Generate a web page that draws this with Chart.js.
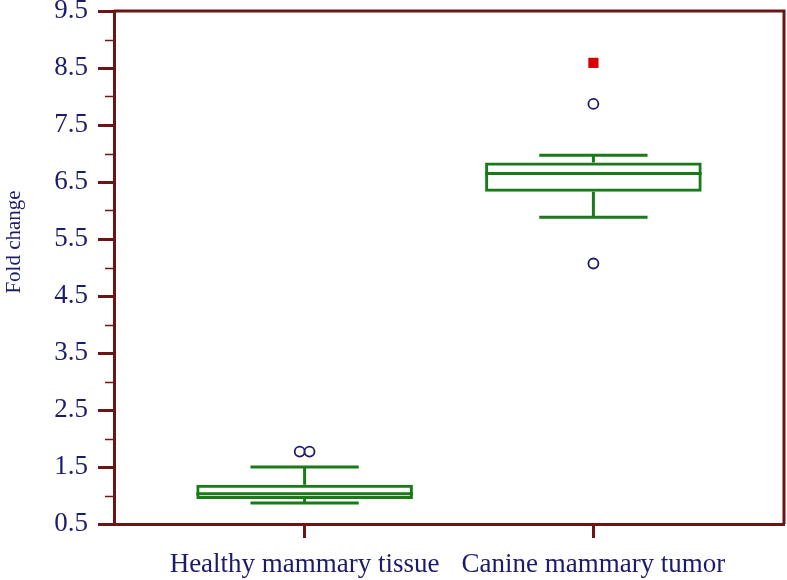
<!DOCTYPE html>
<html>
<head>
<meta charset="utf-8">
<script src="https://cdn.jsdelivr.net/npm/chart.js@4/dist/chart.umd.min.js"></script>
<style>
html,body{margin:0;padding:0;background:#ffffff;}
canvas{display:block;}
</style>
</head>
<body>
<canvas id="c" width="787" height="580"></canvas>
<script>
// ---- data ----
const categories = ['Healthy mammary tissue', 'Canine mammary tumor'];
const groupPos = [1, 2];
const whiskerLow = [0.87, 5.88];
const q1 = [0.94, 6.33];
const median = [1.03, 6.65];
const q3 = [1.19, 6.84];
const whiskerHigh = [1.50, 6.97];
const outlierGroup = [0, 0, 1, 1];
const outlierJitter = [-0.017, 0.017, 0, 0];
const outlierVals = [1.77, 1.77, 7.87, 5.07];
const farOutGroup = [1];
const farOutVals = [8.59];
const yMajorTicks = [0.5, 1.5, 2.5, 3.5, 4.5, 5.5, 6.5, 7.5, 8.5, 9.5];
const yMinorTicks = [1, 2, 3, 4, 5, 6, 7, 8, 9];

// ---- styles ----
const AXIS = '#6b1515';
const NAVY = '#1c1c6c';
const GREEN = '#1a7a1a';
const FONT = '"Liberation Serif", "Times New Roman", serif';

const boxData = groupPos.map((x, i) => ({ x: x, y: [q1[i], q3[i]] }));
const outData = outlierVals.map((v, i) => ({ x: groupPos[outlierGroup[i]] + outlierJitter[i], y: v }));
const farData = farOutVals.map((v, i) => ({ x: groupPos[farOutGroup[i]], y: v }));

const boxPlugin = {
  id: 'boxParts',
  afterDatasetsDraw(chart) {
    const ctx = chart.ctx;
    const xs = chart.scales.x, ys = chart.scales.y;
    const meta = chart.getDatasetMeta(0);
    ctx.save();
    ctx.strokeStyle = GREEN;
    ctx.lineWidth = 3;
    groupPos.forEach((g, i) => {
      const bar = meta.data[i];
      const w = bar.width;
      const cx = xs.getPixelForValue(g);
      const capHalf = w / 4;
      const pm = ys.getPixelForValue(median[i]);
      const p1 = ys.getPixelForValue(q1[i]);
      const p3 = ys.getPixelForValue(q3[i]);
      const pl = ys.getPixelForValue(whiskerLow[i]);
      const ph = ys.getPixelForValue(whiskerHigh[i]);
      ctx.beginPath();
      ctx.moveTo(cx - w / 2, pm); ctx.lineTo(cx + w / 2, pm);
      ctx.moveTo(cx, p3); ctx.lineTo(cx, ph);
      ctx.moveTo(cx, p1); ctx.lineTo(cx, pl);
      ctx.moveTo(cx - capHalf, ph); ctx.lineTo(cx + capHalf, ph);
      ctx.moveTo(cx - capHalf, pl); ctx.lineTo(cx + capHalf, pl);
      ctx.stroke();
    });
    ctx.restore();
  },
  afterDraw(chart) {
    const ctx = chart.ctx;
    const a = chart.chartArea;
    const ys = chart.scales.y;
    ctx.save();
    ctx.strokeStyle = AXIS;
    ctx.lineWidth = 3;
    ctx.beginPath();
    ctx.moveTo(a.left, a.top); ctx.lineTo(a.right, a.top); ctx.lineTo(a.right, a.bottom);
    ctx.stroke();
    ctx.lineWidth = 1.5;
    ctx.beginPath();
    yMinorTicks.forEach(v => {
      const p = Math.round(ys.getPixelForValue(v)) + 0.5;
      ctx.moveTo(a.left - 9, p); ctx.lineTo(a.left, p);
    });
    ctx.stroke();
    ctx.fillStyle = NAVY;
    ctx.font = '21px ' + FONT;
    ctx.textAlign = 'center';
    ctx.textBaseline = 'middle';
    ctx.translate(14, 242);
    ctx.rotate(-Math.PI / 2);
    ctx.fillText('Fold change', 0, 0);
    ctx.restore();
  }
};

new Chart(document.getElementById('c'), {
  type: 'scatter',
  data: {
    datasets: [
      {
        type: 'bar',
        data: boxData,
        backgroundColor: 'rgba(0,0,0,0)',
        borderColor: GREEN,
        borderWidth: 3,
        borderSkipped: false,
        barPercentage: 0.75,
        categoryPercentage: 1
      },
      {
        type: 'scatter',
        data: outData,
        pointStyle: 'circle',
        pointRadius: 5,
        pointBorderWidth: 1.8,
        pointBorderColor: NAVY,
        pointBackgroundColor: '#ffffff'
      },
      {
        type: 'scatter',
        data: farData,
        pointStyle: 'rect',
        pointRadius: 7.2,
        pointBorderWidth: 0,
        pointBackgroundColor: '#d90000',
        pointBorderColor: '#d90000'
      }
    ]
  },
  options: {
    responsive: false,
    animation: false,
    events: [],
    layout: { autoPadding: false, padding: { top: 11, right: 3, left: 0, bottom: 0 } },
    plugins: { legend: { display: false }, tooltip: { enabled: false } },
    scales: {
      x: {
        type: 'linear',
        min: 0.34,
        max: 2.66,
        offset: false,
        afterBuildTicks: s => { s.ticks = groupPos.map(v => ({ value: v })); },
        afterFit: s => { s.height = 56; s.paddingLeft = 0; s.paddingRight = 0; },
        ticks: {
          autoSkip: false,
          maxRotation: 0,
          padding: 11,
          color: NAVY,
          font: { family: FONT, size: 27 },
          callback: v => { const i = groupPos.indexOf(v); return i >= 0 ? categories[i] : ''; }
        },
        grid: {
          offset: false,
          drawOnChartArea: false,
          drawTicks: true,
          tickLength: 14,
          tickColor: AXIS,
          tickWidth: 3
        },
        border: { display: true, color: AXIS, width: 3 }
      },
      y: {
        type: 'linear',
        min: 0.5,
        max: 9.5,
        afterBuildTicks: s => { s.ticks = yMajorTicks.map(v => ({ value: v })); },
        afterFit: s => { s.width = 114; s.paddingTop = 0; s.paddingBottom = 0; },
        ticks: {
          autoSkip: false,
          padding: 10,
          color: NAVY,
          font: { family: FONT, size: 27 },
          callback: v => v.toFixed(1)
        },
        grid: {
          drawOnChartArea: false,
          drawTicks: true,
          tickLength: 16,
          tickColor: AXIS,
          tickWidth: 3
        },
        border: { display: true, color: AXIS, width: 3 }
      }
    }
  },
  plugins: [boxPlugin]
});
</script>
</body>
</html>
